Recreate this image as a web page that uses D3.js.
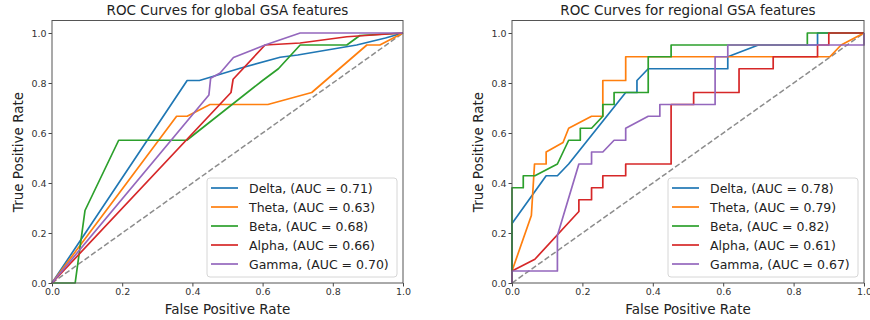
<!DOCTYPE html>
<html>
<head>
<meta charset="utf-8">
<script src="https://cdn.jsdelivr.net/npm/d3@7"></script>
<style>
	body { margin: 0; background: #ffffff; }
	svg { font-family: "DejaVu Sans", sans-serif; }
</style>
</head>
<body>
<svg width="870" height="320"></svg>
<script>

// tick values shared by both panels
var tickVals = [0, 0.2, 0.4, 0.6, 0.8, 1.0];

var bands = ["Delta", "Theta", "Beta", "Alpha", "Gamma"];
var bandColors = ["#1f77b4", "#ff7f0e", "#2ca02c", "#d62728", "#9467bd"];

var globalAuc = [0.71, 0.63, 0.68, 0.66, 0.70];
var regionalAuc = [0.78, 0.79, 0.82, 0.61, 0.67];

// global GSA features, [fpr, tpr]
var globalDelta = [[0,0],[0.385,0.81],[0.42,0.81],[0.536,0.859],[0.65,0.903],[0.7,0.912],[0.868,0.952],[0.95,0.98],[1,1]];
var globalTheta = [[0,0],[0.355,0.667],[0.385,0.667],[0.45,0.714],[0.615,0.714],[0.74,0.762],[0.897,0.952],[0.934,0.952],[1,1]];
var globalBeta = [[0,0],[0.066,0],[0.094,0.29],[0.19,0.571],[0.384,0.571],[0.6,0.81],[0.645,0.857],[0.707,0.952],[0.84,0.952],[0.877,0.99],[1,1]];
var globalAlpha = [[0,0],[0.51,0.762],[0.516,0.815],[0.607,0.952],[0.707,0.96],[0.84,0.985],[1,1]];
var globalGamma = [[0,0],[0.447,0.752],[0.452,0.819],[0.479,0.84],[0.517,0.902],[0.607,0.952],[0.707,1.0],[1,1]];

// regional GSA features, [fpr, tpr]
var regionalDelta = [[0,0],[0,0.238],[0.097,0.429],[0.129,0.429],[0.161,0.476],[0.323,0.762],[0.355,0.762],[0.355,0.81],[0.387,0.857],[0.613,0.857],[0.613,0.905],[0.70,0.952],[0.868,0.952],[0.868,1],[1,1]];
var regionalTheta = [[0,0],[0,0.048],[0.055,0.27],[0.064,0.476],[0.097,0.476],[0.097,0.524],[0.145,0.562],[0.161,0.619],[0.226,0.667],[0.258,0.667],[0.258,0.81],[0.323,0.81],[0.323,0.905],[0.903,0.905],[0.935,0.952],[1,1]];
var regionalBeta = [[0,0],[0,0.381],[0.032,0.381],[0.032,0.429],[0.065,0.429],[0.129,0.476],[0.161,0.571],[0.194,0.571],[0.194,0.619],[0.226,0.619],[0.258,0.667],[0.258,0.714],[0.29,0.714],[0.29,0.762],[0.387,0.762],[0.387,0.905],[0.452,0.905],[0.452,0.952],[0.839,0.952],[0.839,1],[1,1]];
var regionalAlpha = [[0,0],[0,0.048],[0.065,0.095],[0.19,0.286],[0.19,0.333],[0.226,0.333],[0.226,0.381],[0.258,0.381],[0.258,0.429],[0.323,0.429],[0.323,0.476],[0.452,0.476],[0.452,0.714],[0.516,0.714],[0.516,0.762],[0.645,0.762],[0.645,0.857],[0.742,0.857],[0.742,0.905],[0.868,0.905],[0.868,0.952],[0.9,0.952],[0.9,1],[1,1]];
var regionalGamma = [[0,0],[0,0.048],[0.129,0.048],[0.129,0.19],[0.19,0.476],[0.226,0.476],[0.226,0.524],[0.258,0.524],[0.29,0.571],[0.323,0.571],[0.323,0.619],[0.387,0.667],[0.42,0.667],[0.42,0.714],[0.577,0.714],[0.577,0.905],[0.613,0.905],[0.613,0.952],[1,0.952],[1,1]];

var chance = [[0,0],[1,1]];

//////////////////////////////////////////////////////

var svg = d3.select("svg");

function drawPanel(left, right, title, curves, aucs) {

	var x = d3.scaleLinear()
		.domain([0, 1])
		.range([left, right]);

	var y = d3.scaleLinear()
		.domain([0, 1.05])
		.range([283, 20.5]);

	var g = svg.append("g");

	// x axis
	var xAxis = g.append("g")
		.attr("transform", "translate(0,283)")
		.call(d3.axisBottom(x)
			.tickValues(tickVals)
			.tickFormat(d3.format(".1f"))
			.tickSizeOuter(0)
			.tickSize(3.5)
			.tickPadding(2));

	// y axis
	var yAxis = g.append("g")
		.attr("transform", "translate(" + left + ",0)")
		.call(d3.axisLeft(y)
			.tickValues(tickVals)
			.tickFormat(d3.format(".1f"))
			.tickSizeOuter(0)
			.tickSize(3.5)
			.tickPadding(2));

	g.selectAll(".domain").remove();
	g.selectAll(".tick line")
		.style("stroke", "#444444");
	g.selectAll(".tick text")
		.style("font-family", "DejaVu Sans")
		.style("font-size", "9.5px")
		.style("fill", "#333333");

	// dashed chance line
	var line = d3.line()
		.x(function(d) { return x(d[0]); })
		.y(function(d) { return y(d[1]); });

	g.append("path")
		.datum(chance)
		.attr("d", line)
		.style("fill", "none")
		.style("stroke", "#8c8c8c")
		.style("stroke-width", 1.5)
		.style("stroke-dasharray", "5.5,2.5");

	for (var i = 0; i < curves.length; i++) {
		g.append("path")
			.datum(curves[i])
			.attr("d", line)
			.style("fill", "none")
			.style("stroke", bandColors[i])
			.style("stroke-width", 1.7)
			.style("stroke-linejoin", "round");
	}

	// frame
	g.append("rect")
		.attr("x", left)
		.attr("y", y(1.05))
		.attr("width", right - left)
		.attr("height", 283 - y(1.05))
		.style("fill", "none")
		.style("stroke", "#555555")
		.style("stroke-width", 1);

	// titles
	g.append("text")
		.attr("x", (left + right) / 2)
		.attr("y", 15)
		.attr("text-anchor", "middle")
		.style("font-size", "13.5px")
		.style("fill", "#222222")
		.text(title);

	g.append("text")
		.attr("x", (left + right) / 2)
		.attr("y", 314)
		.attr("text-anchor", "middle")
		.style("font-size", "13.5px")
		.style("fill", "#222222")
		.text("False Positive Rate");

	g.append("text")
		.attr("transform", "translate(" + (left - 29) + ",152) rotate(-90)")
		.attr("text-anchor", "middle")
		.style("font-size", "13.5px")
		.style("fill", "#222222")
		.text("True Positive Rate");

	// legend
	var lx = right - 196;
	var legend = g.append("g");

	legend.append("rect")
		.attr("x", lx)
		.attr("y", 178)
		.attr("width", 190)
		.attr("height", 99)
		.attr("rx", 3)
		.style("fill", "#ffffff")
		.style("fill-opacity", 0.8)
		.style("stroke", "#d6d6d6")
		.style("stroke-width", 1);

	for (var j = 0; j < bands.length; j++) {
		var ly = 188 + j * 19;
		legend.append("line")
			.attr("x1", lx + 4)
			.attr("x2", lx + 31)
			.attr("y1", ly)
			.attr("y2", ly)
			.style("stroke", bandColors[j])
			.style("stroke-width", 1.7);
		legend.append("text")
			.attr("x", lx + 42)
			.attr("y", ly + 4.5)
			.style("font-size", "12.5px")
			.style("fill", "#222222")
			.text(bands[j] + ", (AUC = " + aucs[j].toFixed(2) + ")");
	}
}

drawPanel(52, 403, "ROC Curves for global GSA features",
	[globalDelta, globalTheta, globalBeta, globalAlpha, globalGamma], globalAuc);

drawPanel(512, 864, "ROC Curves for regional GSA features",
	[regionalDelta, regionalTheta, regionalBeta, regionalAlpha, regionalGamma], regionalAuc);

</script>
</body>
</html>
